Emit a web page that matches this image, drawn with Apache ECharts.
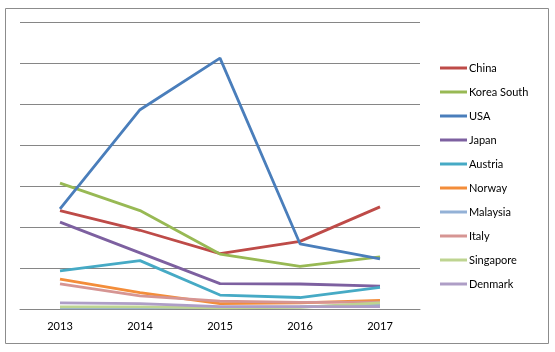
<!DOCTYPE html>
<html lang="en">
<head>
    <meta charset="UTF-8">
    <title>line chart</title>
    <script type="text/javascript" src="https://cdn.jsdelivr.net/npm/echarts@6/dist/echarts.min.js"></script>
    <style>
        body{
            padding: 0px;
            margin: 0px;
            background-color: #ffffff;
        }
        #chart{
            width: 555px;
            height: 352px;
        }
    </style>
</head>
<body>
    <div id="chart"></div>
    <script>
        var years = ['2013', '2014', '2015', '2016', '2017'];
        var china = [24.0, 19.2, 13.5, 16.5, 24.9];
        var koreaSouth = [30.7, 24.0, 13.4, 10.4, 12.7];
        var usa = [24.4, 48.6, 61.2, 15.9, 12.2];
        var japan = [21.2, 13.7, 6.2, 6.1, 5.6];
        var austria = [9.3, 11.8, 3.4, 2.8, 5.3];
        var norway = [7.3, 4.0, 1.3, 1.5, 2.1];
        var malaysia = [0.3, 0.3, 0.4, 0.5, 1.0];
        var italy = [6.1, 3.2, 1.9, 1.6, 1.7];
        var singapore = [0.5, 0.5, 0.3, 0.4, 1.5];
        var denmark = [1.5, 1.3, 0.6, 0.6, 0.6];

        var names = ['China', 'Korea South', 'USA', 'Japan', 'Austria', 'Norway', 'Malaysia', 'Italy', 'Singapore', 'Denmark'];
        var values = [china, koreaSouth, usa, japan, austria, norway, malaysia, italy, singapore, denmark];
        var colors = ['#BE4B48', '#98B954', '#4A7EBB', '#7D60A0', '#46AAC5', '#F38D3A', '#93B1D6', '#D69593', '#BED491', '#AE9EC6'];

        var series = [];
        for (var i = 0; i < names.length; i++) {
            series.push({
                name: names[i],
                type: 'line',
                data: values[i],
                symbol: 'none',
                lineStyle: {width: 2.8, color: colors[i]},
                itemStyle: {color: colors[i]}
            });
        }

        var chart = echarts.init(document.getElementById('chart'));
        chart.setOption({
            animation: false,
            grid: {left: 20, right: 135, top: 22, bottom: 43},
            graphic: [{
                type: 'rect',
                shape: {x: 5.5, y: 8.5, width: 543, height: 335},
                style: {fill: 'none', stroke: '#8c8c8c', lineWidth: 1}
            }],
            legend: {
                orient: 'vertical',
                left: 440,
                top: 61,
                padding: 0,
                icon: 'rect',
                itemWidth: 27,
                itemHeight: 3,
                itemGap: 10,
                textStyle: {fontFamily: 'Lato', fontSize: 11, color: '#000', lineHeight: 14, padding: [0, 0, 0, -3]},
                data: names
            },
            xAxis: {
                type: 'category',
                data: years,
                axisLine: {lineStyle: {color: '#868686', width: 1}},
                axisTick: {length: 5, lineStyle: {color: '#868686'}},
                axisLabel: {color: '#000', fontFamily: 'Lato', fontSize: 11, margin: 12}
            },
            yAxis: {
                type: 'value',
                min: 0,
                max: 70,
                interval: 10,
                axisLine: {show: false},
                axisTick: {show: false},
                axisLabel: {show: false},
                splitLine: {lineStyle: {color: '#868686', width: 1}}
            },
            series: series
        });
    </script>
</body>
</html>
